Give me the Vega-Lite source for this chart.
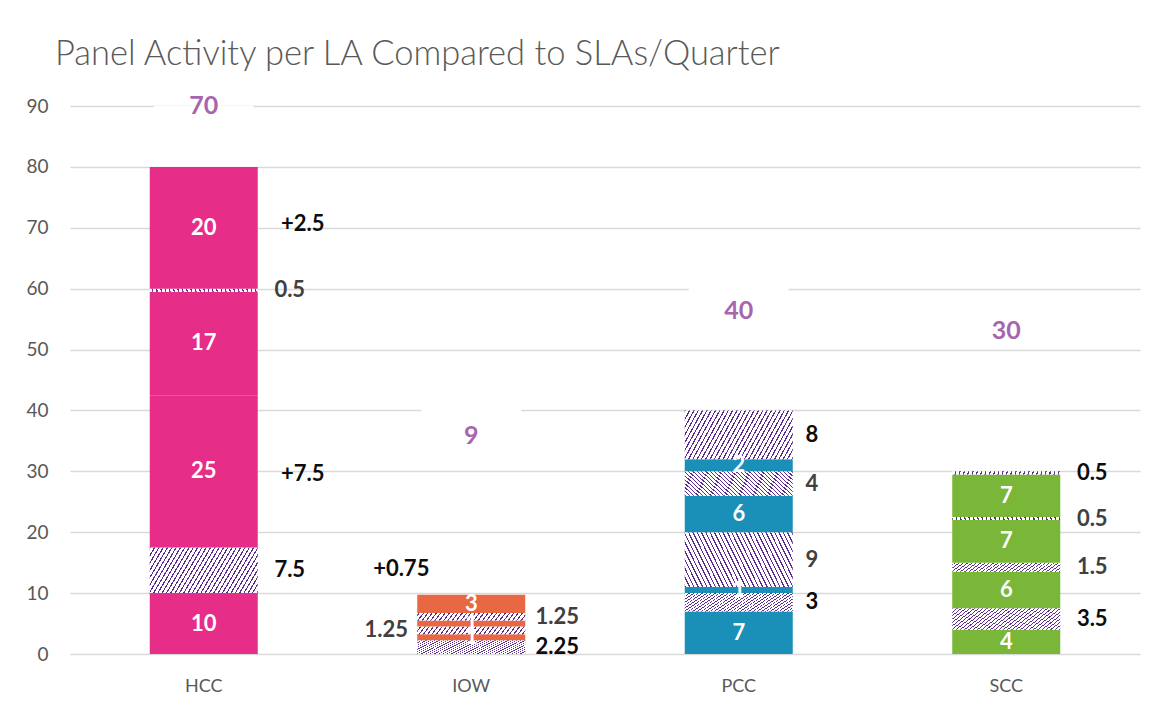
{
  "$schema": "https://vega.github.io/schema/vega-lite/v6.json",
  "width": 1070,
  "height": 548,
  "autosize": {"type": "none"},
  "padding": {"left": 70, "top": 106, "right": 14, "bottom": 57},
  "background": "white",
  "title": {"text": "Panel Activity per LA Compared to SLAs/Quarter", "anchor": "start", "frame": "group", "dx": -15, "offset": -5, "fontSize": 34.5, "font": "Lato", "fontWeight": 300, "color": "#595959", "baseline": "alphabetic"},
  "config": {"font": "Lato", "view": {"stroke": null}},
  "datasets": {
    "seg": [
      {"la": "HCC", "seq": 1, "kind": "S", "value": 10},
      {"la": "HCC", "seq": 2, "kind": "A", "value": 7.5},
      {"la": "HCC", "seq": 3, "kind": "S", "value": 25},
      {"la": "HCC", "seq": 4, "kind": "S", "value": 17},
      {"la": "HCC", "seq": 5, "kind": "B", "value": 0.5},
      {"la": "HCC", "seq": 6, "kind": "S", "value": 20},
      {"la": "IOW", "seq": 1, "kind": "A", "value": 2.25},
      {"la": "IOW", "seq": 2, "kind": "S", "value": 1},
      {"la": "IOW", "seq": 3, "kind": "B", "value": 1.25},
      {"la": "IOW", "seq": 4, "kind": "S", "value": 1},
      {"la": "IOW", "seq": 5, "kind": "B", "value": 1.25},
      {"la": "IOW", "seq": 6, "kind": "S", "value": 3},
      {"la": "PCC", "seq": 1, "kind": "S", "value": 7},
      {"la": "PCC", "seq": 2, "kind": "A", "value": 3},
      {"la": "PCC", "seq": 3, "kind": "S", "value": 1},
      {"la": "PCC", "seq": 4, "kind": "B", "value": 9},
      {"la": "PCC", "seq": 5, "kind": "S", "value": 6},
      {"la": "PCC", "seq": 6, "kind": "B", "value": 4},
      {"la": "PCC", "seq": 7, "kind": "S", "value": 2},
      {"la": "PCC", "seq": 8, "kind": "A", "value": 8},
      {"la": "SCC", "seq": 1, "kind": "S", "value": 4},
      {"la": "SCC", "seq": 2, "kind": "A", "value": 3.5},
      {"la": "SCC", "seq": 3, "kind": "S", "value": 6},
      {"la": "SCC", "seq": 4, "kind": "B", "value": 1.5},
      {"la": "SCC", "seq": 5, "kind": "S", "value": 7},
      {"la": "SCC", "seq": 6, "kind": "B", "value": 0.5},
      {"la": "SCC", "seq": 7, "kind": "S", "value": 7},
      {"la": "SCC", "seq": 8, "kind": "A", "value": 0.5}
    ],
    "sla": [
      {"la": "HCC", "sla": 70, "at": 90},
      {"la": "IOW", "sla": 9, "at": 35.8},
      {"la": "PCC", "sla": 40, "at": 56.3},
      {"la": "SCC", "sla": 30, "at": 53}
    ],
    "extra": [
      {"la": "HCC", "label": "+7.5", "at": 29.6},
      {"la": "HCC", "label": "+2.5", "at": 70.6},
      {"la": "IOW", "label": "+0.75", "at": 13.95}
    ]
  },
  "encoding": {
    "x": {"field": "la", "type": "nominal", "scale": {"type": "band", "domain": ["HCC", "IOW", "PCC", "SCC"], "paddingInner": 0, "paddingOuter": 0}, "axis": {"title": null, "labelAngle": 0, "labelFontSize": 18, "labelColor": "#595959", "ticks": false, "domain": false, "labelPadding": 23, "grid": false}}
  },
  "layer": [
    {
      "data": {"name": "sla"},
      "mark": {"type": "point", "shape": "M-1,-0.64H1V0.24H-1Z", "size": 10000, "filled": true, "color": "white", "opacity": 1, "strokeWidth": 0, "clip": true},
      "encoding": {
        "y": {"field": "at", "type": "quantitative", "scale": {"domain": [0, 90], "nice": false}, "axis": {"title": null, "values": [0, 10, 20, 30, 40, 50, 60, 70, 80, 90], "labelFontSize": 19, "labelColor": "#595959", "ticks": false, "domain": false, "labelPadding": 22, "gridColor": "#D9D9D9", "gridWidth": 1.5}}
      }
    },
    {
      "data": {"name": "seg"},
      "transform": [{"stack": "value", "groupby": ["la"], "sort": [{"field": "seq", "order": "ascending"}], "as": ["v0", "v1"]}],
      "mark": {"type": "bar", "width": 108, "strokeWidth": 0},
      "encoding": {
        "y": {"field": "v0", "type": "quantitative", "scale": {"domain": [0, 90], "nice": false}, "axis": {"title": null, "values": [0, 10, 20, 30, 40, 50, 60, 70, 80, 90], "labelFontSize": 19, "labelColor": "#595959", "ticks": false, "domain": false, "labelPadding": 22, "gridColor": "#D9D9D9", "gridWidth": 1.5}},
        "y2": {"field": "v1"},
        "fill": {
          "condition": [
            {"test": "datum.kind === 'A'", "value": {"gradient": "linear", "x1": 0, "y1": 0, "x2": 1.5, "y2": 0.375, "stops": [
{"offset":0,"color":"#5b2c8f"},{"offset":0.0075,"color":"#5b2c8f"},{"offset":0.0075,"color":"#fff"},{"offset":0.025,"color":"#fff"},
{"offset":0.025,"color":"#5b2c8f"},{"offset":0.0325,"color":"#5b2c8f"},{"offset":0.0325,"color":"#fff"},{"offset":0.05,"color":"#fff"},
{"offset":0.05,"color":"#5b2c8f"},{"offset":0.0575,"color":"#5b2c8f"},{"offset":0.0575,"color":"#fff"},{"offset":0.075,"color":"#fff"},
{"offset":0.075,"color":"#5b2c8f"},{"offset":0.0825,"color":"#5b2c8f"},{"offset":0.0825,"color":"#fff"},{"offset":0.1,"color":"#fff"},
{"offset":0.1,"color":"#5b2c8f"},{"offset":0.1075,"color":"#5b2c8f"},{"offset":0.1075,"color":"#fff"},{"offset":0.125,"color":"#fff"},
{"offset":0.125,"color":"#5b2c8f"},{"offset":0.1325,"color":"#5b2c8f"},{"offset":0.1325,"color":"#fff"},{"offset":0.15,"color":"#fff"},
{"offset":0.15,"color":"#5b2c8f"},{"offset":0.1575,"color":"#5b2c8f"},{"offset":0.1575,"color":"#fff"},{"offset":0.175,"color":"#fff"},
{"offset":0.175,"color":"#5b2c8f"},{"offset":0.1825,"color":"#5b2c8f"},{"offset":0.1825,"color":"#fff"},{"offset":0.2,"color":"#fff"},
{"offset":0.2,"color":"#5b2c8f"},{"offset":0.2075,"color":"#5b2c8f"},{"offset":0.2075,"color":"#fff"},{"offset":0.225,"color":"#fff"},
{"offset":0.225,"color":"#5b2c8f"},{"offset":0.2325,"color":"#5b2c8f"},{"offset":0.2325,"color":"#fff"},{"offset":0.25,"color":"#fff"},
{"offset":0.25,"color":"#5b2c8f"},{"offset":0.2575,"color":"#5b2c8f"},{"offset":0.2575,"color":"#fff"},{"offset":0.275,"color":"#fff"},
{"offset":0.275,"color":"#5b2c8f"},{"offset":0.2825,"color":"#5b2c8f"},{"offset":0.2825,"color":"#fff"},{"offset":0.3,"color":"#fff"},
{"offset":0.3,"color":"#5b2c8f"},{"offset":0.3075,"color":"#5b2c8f"},{"offset":0.3075,"color":"#fff"},{"offset":0.325,"color":"#fff"},
{"offset":0.325,"color":"#5b2c8f"},{"offset":0.3325,"color":"#5b2c8f"},{"offset":0.3325,"color":"#fff"},{"offset":0.35,"color":"#fff"},
{"offset":0.35,"color":"#5b2c8f"},{"offset":0.3575,"color":"#5b2c8f"},{"offset":0.3575,"color":"#fff"},{"offset":0.375,"color":"#fff"},
{"offset":0.375,"color":"#5b2c8f"},{"offset":0.3825,"color":"#5b2c8f"},{"offset":0.3825,"color":"#fff"},{"offset":0.4,"color":"#fff"},
{"offset":0.4,"color":"#5b2c8f"},{"offset":0.4075,"color":"#5b2c8f"},{"offset":0.4075,"color":"#fff"},{"offset":0.425,"color":"#fff"},
{"offset":0.425,"color":"#5b2c8f"},{"offset":0.4325,"color":"#5b2c8f"},{"offset":0.4325,"color":"#fff"},{"offset":0.45,"color":"#fff"},
{"offset":0.45,"color":"#5b2c8f"},{"offset":0.4575,"color":"#5b2c8f"},{"offset":0.4575,"color":"#fff"},{"offset":0.475,"color":"#fff"},
{"offset":0.475,"color":"#5b2c8f"},{"offset":0.4825,"color":"#5b2c8f"},{"offset":0.4825,"color":"#fff"},{"offset":0.5,"color":"#fff"},
{"offset":0.5,"color":"#5b2c8f"},{"offset":0.5075,"color":"#5b2c8f"},{"offset":0.5075,"color":"#fff"},{"offset":0.525,"color":"#fff"},
{"offset":0.525,"color":"#5b2c8f"},{"offset":0.5325,"color":"#5b2c8f"},{"offset":0.5325,"color":"#fff"},{"offset":0.55,"color":"#fff"},
{"offset":0.55,"color":"#5b2c8f"},{"offset":0.5575,"color":"#5b2c8f"},{"offset":0.5575,"color":"#fff"},{"offset":0.575,"color":"#fff"},
{"offset":0.575,"color":"#5b2c8f"},{"offset":0.5825,"color":"#5b2c8f"},{"offset":0.5825,"color":"#fff"},{"offset":0.6,"color":"#fff"},
{"offset":0.6,"color":"#5b2c8f"},{"offset":0.6075,"color":"#5b2c8f"},{"offset":0.6075,"color":"#fff"},{"offset":0.625,"color":"#fff"},
{"offset":0.625,"color":"#5b2c8f"},{"offset":0.6325,"color":"#5b2c8f"},{"offset":0.6325,"color":"#fff"},{"offset":0.65,"color":"#fff"},
{"offset":0.65,"color":"#5b2c8f"},{"offset":0.6575,"color":"#5b2c8f"},{"offset":0.6575,"color":"#fff"},{"offset":0.675,"color":"#fff"},
{"offset":0.675,"color":"#5b2c8f"},{"offset":0.6825,"color":"#5b2c8f"},{"offset":0.6825,"color":"#fff"},{"offset":0.7,"color":"#fff"},
{"offset":0.7,"color":"#5b2c8f"},{"offset":0.7075,"color":"#5b2c8f"},{"offset":0.7075,"color":"#fff"},{"offset":0.725,"color":"#fff"},
{"offset":0.725,"color":"#5b2c8f"},{"offset":0.7325,"color":"#5b2c8f"},{"offset":0.7325,"color":"#fff"},{"offset":0.75,"color":"#fff"},
{"offset":0.75,"color":"#5b2c8f"},{"offset":0.7575,"color":"#5b2c8f"},{"offset":0.7575,"color":"#fff"},{"offset":0.775,"color":"#fff"},
{"offset":0.775,"color":"#5b2c8f"},{"offset":0.7825,"color":"#5b2c8f"},{"offset":0.7825,"color":"#fff"},{"offset":0.8,"color":"#fff"},
{"offset":0.8,"color":"#5b2c8f"},{"offset":0.8075,"color":"#5b2c8f"},{"offset":0.8075,"color":"#fff"},{"offset":1,"color":"#fff"}
            ]}},
            {"test": "datum.kind === 'B'", "value": {"gradient": "linear", "x1": 0, "y1": 1, "x2": 1.5, "y2": 0.625, "stops": [
{"offset":0,"color":"#5b2c8f"},{"offset":0.0075,"color":"#5b2c8f"},{"offset":0.0075,"color":"#fff"},{"offset":0.025,"color":"#fff"},
{"offset":0.025,"color":"#5b2c8f"},{"offset":0.0325,"color":"#5b2c8f"},{"offset":0.0325,"color":"#fff"},{"offset":0.05,"color":"#fff"},
{"offset":0.05,"color":"#5b2c8f"},{"offset":0.0575,"color":"#5b2c8f"},{"offset":0.0575,"color":"#fff"},{"offset":0.075,"color":"#fff"},
{"offset":0.075,"color":"#5b2c8f"},{"offset":0.0825,"color":"#5b2c8f"},{"offset":0.0825,"color":"#fff"},{"offset":0.1,"color":"#fff"},
{"offset":0.1,"color":"#5b2c8f"},{"offset":0.1075,"color":"#5b2c8f"},{"offset":0.1075,"color":"#fff"},{"offset":0.125,"color":"#fff"},
{"offset":0.125,"color":"#5b2c8f"},{"offset":0.1325,"color":"#5b2c8f"},{"offset":0.1325,"color":"#fff"},{"offset":0.15,"color":"#fff"},
{"offset":0.15,"color":"#5b2c8f"},{"offset":0.1575,"color":"#5b2c8f"},{"offset":0.1575,"color":"#fff"},{"offset":0.175,"color":"#fff"},
{"offset":0.175,"color":"#5b2c8f"},{"offset":0.1825,"color":"#5b2c8f"},{"offset":0.1825,"color":"#fff"},{"offset":0.2,"color":"#fff"},
{"offset":0.2,"color":"#5b2c8f"},{"offset":0.2075,"color":"#5b2c8f"},{"offset":0.2075,"color":"#fff"},{"offset":0.225,"color":"#fff"},
{"offset":0.225,"color":"#5b2c8f"},{"offset":0.2325,"color":"#5b2c8f"},{"offset":0.2325,"color":"#fff"},{"offset":0.25,"color":"#fff"},
{"offset":0.25,"color":"#5b2c8f"},{"offset":0.2575,"color":"#5b2c8f"},{"offset":0.2575,"color":"#fff"},{"offset":0.275,"color":"#fff"},
{"offset":0.275,"color":"#5b2c8f"},{"offset":0.2825,"color":"#5b2c8f"},{"offset":0.2825,"color":"#fff"},{"offset":0.3,"color":"#fff"},
{"offset":0.3,"color":"#5b2c8f"},{"offset":0.3075,"color":"#5b2c8f"},{"offset":0.3075,"color":"#fff"},{"offset":0.325,"color":"#fff"},
{"offset":0.325,"color":"#5b2c8f"},{"offset":0.3325,"color":"#5b2c8f"},{"offset":0.3325,"color":"#fff"},{"offset":0.35,"color":"#fff"},
{"offset":0.35,"color":"#5b2c8f"},{"offset":0.3575,"color":"#5b2c8f"},{"offset":0.3575,"color":"#fff"},{"offset":0.375,"color":"#fff"},
{"offset":0.375,"color":"#5b2c8f"},{"offset":0.3825,"color":"#5b2c8f"},{"offset":0.3825,"color":"#fff"},{"offset":0.4,"color":"#fff"},
{"offset":0.4,"color":"#5b2c8f"},{"offset":0.4075,"color":"#5b2c8f"},{"offset":0.4075,"color":"#fff"},{"offset":0.425,"color":"#fff"},
{"offset":0.425,"color":"#5b2c8f"},{"offset":0.4325,"color":"#5b2c8f"},{"offset":0.4325,"color":"#fff"},{"offset":0.45,"color":"#fff"},
{"offset":0.45,"color":"#5b2c8f"},{"offset":0.4575,"color":"#5b2c8f"},{"offset":0.4575,"color":"#fff"},{"offset":0.475,"color":"#fff"},
{"offset":0.475,"color":"#5b2c8f"},{"offset":0.4825,"color":"#5b2c8f"},{"offset":0.4825,"color":"#fff"},{"offset":0.5,"color":"#fff"},
{"offset":0.5,"color":"#5b2c8f"},{"offset":0.5075,"color":"#5b2c8f"},{"offset":0.5075,"color":"#fff"},{"offset":0.525,"color":"#fff"},
{"offset":0.525,"color":"#5b2c8f"},{"offset":0.5325,"color":"#5b2c8f"},{"offset":0.5325,"color":"#fff"},{"offset":0.55,"color":"#fff"},
{"offset":0.55,"color":"#5b2c8f"},{"offset":0.5575,"color":"#5b2c8f"},{"offset":0.5575,"color":"#fff"},{"offset":0.575,"color":"#fff"},
{"offset":0.575,"color":"#5b2c8f"},{"offset":0.5825,"color":"#5b2c8f"},{"offset":0.5825,"color":"#fff"},{"offset":0.6,"color":"#fff"},
{"offset":0.6,"color":"#5b2c8f"},{"offset":0.6075,"color":"#5b2c8f"},{"offset":0.6075,"color":"#fff"},{"offset":0.625,"color":"#fff"},
{"offset":0.625,"color":"#5b2c8f"},{"offset":0.6325,"color":"#5b2c8f"},{"offset":0.6325,"color":"#fff"},{"offset":0.65,"color":"#fff"},
{"offset":0.65,"color":"#5b2c8f"},{"offset":0.6575,"color":"#5b2c8f"},{"offset":0.6575,"color":"#fff"},{"offset":0.675,"color":"#fff"},
{"offset":0.675,"color":"#5b2c8f"},{"offset":0.6825,"color":"#5b2c8f"},{"offset":0.6825,"color":"#fff"},{"offset":0.7,"color":"#fff"},
{"offset":0.7,"color":"#5b2c8f"},{"offset":0.7075,"color":"#5b2c8f"},{"offset":0.7075,"color":"#fff"},{"offset":0.725,"color":"#fff"},
{"offset":0.725,"color":"#5b2c8f"},{"offset":0.7325,"color":"#5b2c8f"},{"offset":0.7325,"color":"#fff"},{"offset":0.75,"color":"#fff"},
{"offset":0.75,"color":"#5b2c8f"},{"offset":0.7575,"color":"#5b2c8f"},{"offset":0.7575,"color":"#fff"},{"offset":0.775,"color":"#fff"},
{"offset":0.775,"color":"#5b2c8f"},{"offset":0.7825,"color":"#5b2c8f"},{"offset":0.7825,"color":"#fff"},{"offset":0.8,"color":"#fff"},
{"offset":0.8,"color":"#5b2c8f"},{"offset":0.8075,"color":"#5b2c8f"},{"offset":0.8075,"color":"#fff"},{"offset":1,"color":"#fff"}
            ]}}
          ],
          "field": "la", "type": "nominal",
          "scale": {"domain": ["HCC", "IOW", "PCC", "SCC"], "range": ["#E62D87", "#E86844", "#1A90B9", "#7AB738"]},
          "legend": null
        }
      }
    },
    {
      "data": {"name": "seg"},
      "transform": [
        {"stack": "value", "groupby": ["la"], "sort": [{"field": "seq", "order": "ascending"}], "as": ["v0", "v1"]},
        {"filter": "datum.kind === 'S'"},
        {"fold": ["v0", "v1"], "as": ["end", "pos"]}
      ],
      "mark": {"type": "text", "fontSize": 22, "fontWeight": "bold", "color": "white", "baseline": "middle", "align": "center"},
      "encoding": {
        "y": {"field": "pos", "aggregate": "mean", "type": "quantitative", "scale": {"domain": [0, 90], "nice": false}, "axis": {"title": null, "values": [0, 10, 20, 30, 40, 50, 60, 70, 80, 90], "labelFontSize": 19, "labelColor": "#595959", "ticks": false, "domain": false, "labelPadding": 22, "gridColor": "#D9D9D9", "gridWidth": 1.5}},
        "text": {"field": "value", "type": "nominal"},
        "detail": {"field": "seq", "type": "nominal"}
      }
    },
    {
      "data": {"name": "seg"},
      "transform": [
        {"stack": "value", "groupby": ["la"], "sort": [{"field": "seq", "order": "ascending"}], "as": ["v0", "v1"]},
        {"filter": "datum.kind !== 'S' && datum.la !== 'PCC' && !(datum.la === 'IOW' && datum.seq === 3)"},
        {"fold": ["v0", "v1"], "as": ["end", "pos"]}
      ],
      "mark": {"type": "text", "fontSize": 22, "fontWeight": "bold", "baseline": "middle", "align": "center", "dx": 86},
      "encoding": {
        "y": {"field": "pos", "aggregate": "mean", "type": "quantitative", "scale": {"domain": [0, 90], "nice": false}, "axis": {"title": null, "values": [0, 10, 20, 30, 40, 50, 60, 70, 80, 90], "labelFontSize": 19, "labelColor": "#595959", "ticks": false, "domain": false, "labelPadding": 22, "gridColor": "#D9D9D9", "gridWidth": 1.5}},
        "text": {"field": "value", "type": "nominal"},
        "detail": [{"field": "seq", "type": "nominal"}, {"field": "kind", "type": "nominal"}],
        "color": {"condition": {"test": "datum.kind === 'A'", "value": "#0D0D0D"}, "value": "#404040"}
      }
    },
    {
      "data": {"name": "seg"},
      "transform": [
        {"stack": "value", "groupby": ["la"], "sort": [{"field": "seq", "order": "ascending"}], "as": ["v0", "v1"]},
        {"filter": "datum.kind !== 'S' && datum.la === 'PCC'"},
        {"fold": ["v0", "v1"], "as": ["end", "pos"]}
      ],
      "mark": {"type": "text", "fontSize": 22, "fontWeight": "bold", "baseline": "middle", "align": "center", "dx": 73},
      "encoding": {
        "y": {"field": "pos", "aggregate": "mean", "type": "quantitative", "scale": {"domain": [0, 90], "nice": false}, "axis": {"title": null, "values": [0, 10, 20, 30, 40, 50, 60, 70, 80, 90], "labelFontSize": 19, "labelColor": "#595959", "ticks": false, "domain": false, "labelPadding": 22, "gridColor": "#D9D9D9", "gridWidth": 1.5}},
        "text": {"field": "value", "type": "nominal"},
        "detail": [{"field": "seq", "type": "nominal"}, {"field": "kind", "type": "nominal"}],
        "color": {"condition": {"test": "datum.kind === 'A'", "value": "#0D0D0D"}, "value": "#404040"}
      }
    },
    {
      "data": {"name": "seg"},
      "transform": [
        {"stack": "value", "groupby": ["la"], "sort": [{"field": "seq", "order": "ascending"}], "as": ["v0", "v1"]},
        {"filter": "datum.la === 'IOW' && datum.seq === 3"},
        {"fold": ["v0", "v1"], "as": ["end", "pos"]}
      ],
      "mark": {"type": "text", "fontSize": 22, "fontWeight": "bold", "baseline": "middle", "align": "center", "dx": -85, "color": "#404040"},
      "encoding": {
        "y": {"field": "pos", "aggregate": "mean", "type": "quantitative", "scale": {"domain": [0, 90], "nice": false}, "axis": {"title": null, "values": [0, 10, 20, 30, 40, 50, 60, 70, 80, 90], "labelFontSize": 19, "labelColor": "#595959", "ticks": false, "domain": false, "labelPadding": 22, "gridColor": "#D9D9D9", "gridWidth": 1.5}},
        "text": {"field": "value", "type": "nominal"},
        "detail": {"field": "seq", "type": "nominal"}
      }
    },
    {
      "data": {"name": "extra"},
      "transform": [{"filter": "datum.la === 'HCC'"}],
      "mark": {"type": "text", "fontSize": 22, "fontWeight": "bold", "baseline": "middle", "align": "center", "dx": 99, "color": "#0D0D0D"},
      "encoding": {
        "y": {"field": "at", "type": "quantitative", "scale": {"domain": [0, 90], "nice": false}, "axis": {"title": null, "values": [0, 10, 20, 30, 40, 50, 60, 70, 80, 90], "labelFontSize": 19, "labelColor": "#595959", "ticks": false, "domain": false, "labelPadding": 22, "gridColor": "#D9D9D9", "gridWidth": 1.5}},
        "text": {"field": "label", "type": "nominal"}
      }
    },
    {
      "data": {"name": "extra"},
      "transform": [{"filter": "datum.la === 'IOW'"}],
      "mark": {"type": "text", "fontSize": 22, "fontWeight": "bold", "baseline": "middle", "align": "center", "dx": -70, "color": "#0D0D0D"},
      "encoding": {
        "y": {"field": "at", "type": "quantitative", "scale": {"domain": [0, 90], "nice": false}, "axis": {"title": null, "values": [0, 10, 20, 30, 40, 50, 60, 70, 80, 90], "labelFontSize": 19, "labelColor": "#595959", "ticks": false, "domain": false, "labelPadding": 22, "gridColor": "#D9D9D9", "gridWidth": 1.5}},
        "text": {"field": "label", "type": "nominal"}
      }
    },
    {
      "data": {"name": "sla"},
      "mark": {"type": "text", "fontSize": 25, "fontWeight": "bold", "baseline": "middle", "align": "center", "color": "#A666AE"},
      "encoding": {
        "y": {"field": "at", "type": "quantitative", "scale": {"domain": [0, 90], "nice": false}, "axis": {"title": null, "values": [0, 10, 20, 30, 40, 50, 60, 70, 80, 90], "labelFontSize": 19, "labelColor": "#595959", "ticks": false, "domain": false, "labelPadding": 22, "gridColor": "#D9D9D9", "gridWidth": 1.5}},
        "text": {"field": "sla", "type": "nominal"}
      }
    }
  ]
}
